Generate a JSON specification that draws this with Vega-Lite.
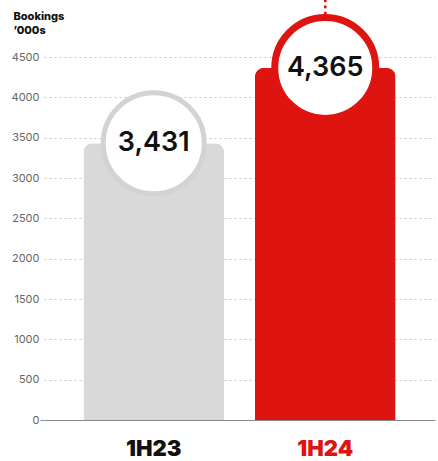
{
  "$schema": "https://vega.github.io/schema/vega-lite/v6.json",
  "width": 391,
  "height": 363,
  "autosize": {"type": "none"},
  "padding": {"left": 44, "top": 57, "right": 3, "bottom": 41},
  "background": "white",
  "config": {"view": {"stroke": null}},
  "data": {
    "values": [
      {"period": "1H23", "bookings": 3431, "label": "3,431"},
      {"period": "1H24", "bookings": 4365, "label": "4,365"}
    ]
  },
  "encoding": {
    "x": {
      "field": "period",
      "type": "nominal",
      "sort": null,
      "scale": {"paddingInner": 0.18, "paddingOuter": 0.23},
      "axis": {
        "title": null,
        "labelAngle": 0,
        "domain": true,
        "domainColor": "#8a8a8a",
        "domainWidth": 1,
        "ticks": false,
        "labelPadding": 18,
        "labelFont": "Inter",
        "labelFontSize": 22,
        "labelFontWeight": 900,
        "labelColor": {"condition": {"test": "datum.value === '1H24'", "value": "#dd1410"}, "value": "#111111"}
      }
    }
  },
  "layer": [
    {
      "mark": {"type": "bar", "cornerRadiusTopLeft": 9, "cornerRadiusTopRight": 9},
      "encoding": {
        "y": {
          "field": "bookings",
          "type": "quantitative",
          "scale": {"domain": [0, 4500], "nice": false},
          "axis": {
            "title": ["Bookings", "’000s"],
            "titleAngle": 0,
            "titleX": -31,
            "titleY": -47,
            "titleAlign": "left",
            "titleBaseline": "top",
            "titleFont": "Inter",
            "titleFontSize": 11,
            "titleFontWeight": 800,
            "titleColor": "#111111",
            "titleLineHeight": 14,
            "values": [0, 500, 1000, 1500, 2000, 2500, 3000, 3500, 4000, 4500],
            "format": "d",
            "domain": false,
            "ticks": true,
            "tickSize": 4,
            "tickColor": "#8a8a8a",
            "tickOpacity": {"condition": {"test": "datum.value === 0", "value": 1}, "value": 0},
            "labelPadding": 1,
            "labelFont": "Inter",
            "labelFontSize": 11,
            "labelColor": "#666666",
            "grid": true,
            "gridColor": "#c8c8c8",
            "gridDash": [2, 3],
            "gridOpacity": {"condition": {"test": "datum.value === 0", "value": 0}, "value": 1}
          }
        },
        "fill": {
          "field": "period",
          "type": "nominal",
          "scale": {"domain": ["1H23", "1H24"], "range": ["#d9d9d9", "#dd1410"]},
          "legend": null
        }
      }
    },
    {
      "transform": [{"filter": "datum.period === '1H24'"}],
      "mark": {"type": "rule", "color": "#dd1410", "strokeWidth": 3, "strokeCap": "round", "strokeDash": [0.1, 6]},
      "encoding": {
        "y": {"field": "bookings", "type": "quantitative"},
        "y2": {"datum": 5300}
      }
    },
    {
      "mark": {"type": "point", "shape": "circle", "filled": false, "fill": "white", "fillOpacity": 1, "size": 10200, "opacity": 1},
      "encoding": {
        "y": {"field": "bookings", "type": "quantitative"},
        "stroke": {
          "field": "period",
          "type": "nominal",
          "scale": {"domain": ["1H23", "1H24"], "range": ["#d3d3d3", "#dd1410"]},
          "legend": null
        },
        "strokeWidth": {"condition": {"test": "datum.period === '1H24'", "value": 7}, "value": 5}
      }
    },
    {
      "mark": {"type": "text", "font": "Inter", "fontSize": 27, "fontWeight": 600, "color": "#111111", "baseline": "middle", "align": "center"},
      "encoding": {
        "y": {"field": "bookings", "type": "quantitative"},
        "text": {"field": "label"}
      }
    }
  ]
}
